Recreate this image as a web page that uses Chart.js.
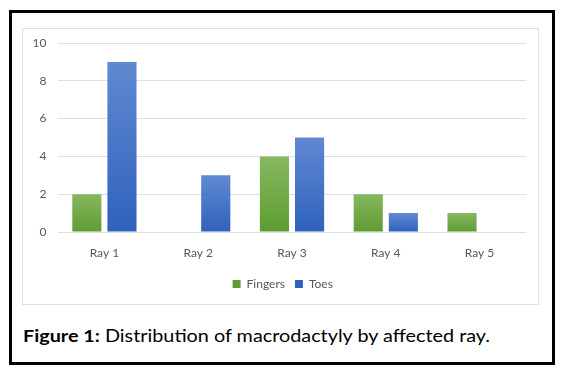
<!DOCTYPE html>
<html>
<head>
<meta charset="utf-8">
<script src="https://cdn.jsdelivr.net/npm/chart.js@4"></script>
<style>
  html, body { margin: 0; padding: 0; background: #fff; }
  body { width: 570px; height: 378px; position: relative; overflow: hidden; }
  #outer { position: absolute; left: 9px; top: 10px; width: 540px; height: 349px; border: 3px solid #000; }
  #inner { position: absolute; left: 22px; top: 28px; width: 515px; height: 275px; border: 1px solid #dcdfe6; }
  #inner canvas { display: block; }
  #caption { position: absolute; left: 23px; top: 326px; font-family: Lato, sans-serif; font-size: 17px; line-height: 20px; color: #000; white-space: nowrap; transform-origin: 0 0; }
  #caption b { font-weight: bold; }
</style>
</head>
<body>
<div id="outer"></div>
<div id="inner"><canvas id="c" width="515" height="275"></canvas></div>
<div id="caption"><b>Figure 1:</b> Distribution of macrodactyly by affected ray.</div>
<script>
const categories = ["Ray 1", "Ray 2", "Ray 3", "Ray 4", "Ray 5"];
const fingers = [2, 0, 4, 2, 1];
const toes = [9, 3, 5, 1, 0];
const yTicks = [0, 2, 4, 6, 8, 10];

function barGradient(top, bottom, solid) {
  return function (ctx) {
    const chart = ctx.chart;
    if (ctx.type !== 'data' || !chart.scales || !chart.scales.y) return solid;
    const y = chart.scales.y;
    const v = ctx.raw;
    const yTop = y.getPixelForValue(v);
    const yBase = y.getPixelForValue(0);
    if (!isFinite(yTop) || !isFinite(yBase) || yTop === yBase) return solid;
    const g = chart.ctx.createLinearGradient(0, yTop, 0, yBase);
    g.addColorStop(0, top);
    g.addColorStop(1, bottom);
    return g;
  };
}

const legendShift = {
  id: 'legendShift',
  afterLayout(chart) {
    if (chart.legend) { chart.legend.left += 8; chart.legend.right += 8; }
  }
};

const chart = new Chart(document.getElementById('c'), {
  type: 'bar',
  data: {
    labels: categories,
    datasets: [
      { label: 'Fingers', data: fingers, backgroundColor: barGradient('#87b860', '#5e9c31', '#6aa83c'), borderWidth: 0 },
      { label: 'Toes', data: toes, backgroundColor: barGradient('#6089d1', '#2f62bd', '#3f6dc8'), borderWidth: 0 }
    ]
  },
  plugins: [legendShift],
  options: {
    responsive: false,
    animation: false,
    devicePixelRatio: 1,
    categoryPercentage: 0.749,
    barPercentage: 0.829,
    layout: { padding: { left: 0, top: 14, right: 11.5, bottom: 4 } },
    plugins: {
      legend: {
        position: 'bottom',
        labels: {
          boxWidth: 8, boxHeight: 8, padding: 10,
          color: '#595959',
          font: { family: 'Lato', size: 12 }
        }
      },
      tooltip: { enabled: false }
    },
    scales: {
      x: {
        grid: { display: false, drawTicks: false },
        border: { display: false },
        ticks: { color: '#595959', font: { family: 'Lato', size: 12 }, padding: 14 },
        afterFit: s => { s.height = 36; }
      },
      y: {
        min: 0, max: 10,
        afterBuildTicks: s => { s.ticks = yTicks.map(v => ({ value: v })); },
        grid: { color: '#dcdfe6', drawTicks: false, lineWidth: 1 },
        border: { display: false },
        ticks: { color: '#595959', font: { family: 'Lato', size: 12 }, padding: 11 },
        afterFit: s => { s.width = 34.5; s.paddingTop = 0; s.paddingBottom = 0; }
      }
    }
  }
});

const cap = document.getElementById('caption');
const w = cap.getBoundingClientRect().width;
cap.style.transform = 'scaleX(' + (467 / w) + ')';
</script>
</body>
</html>
